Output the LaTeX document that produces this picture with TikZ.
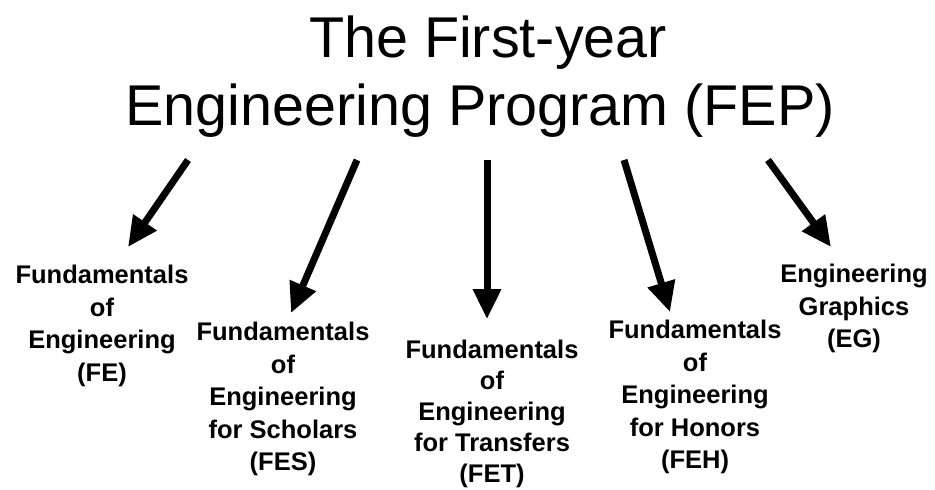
\documentclass[tikz,border=0pt]{standalone}
\usepackage{fontspec}
\setmainfont{Liberation Sans}
\usetikzlibrary{arrows.meta}
\tikzset{
  titletext/.style={inner sep=0pt, anchor=base, font=\fontsize{57.5}{68}\selectfont},
  labeltext/.style={inner sep=0pt, anchor=north, align=center, font=\bfseries\fontsize{25.5}{32.5}\selectfont},
  tightlabel/.style={labeltext, font=\bfseries\fontsize{25.5}{31}\selectfont},
  bigarrow/.style={line width=7pt, -{Triangle[length=30pt,width=27pt]}}
}
\begin{document}
\begin{tikzpicture}[x=1pt,y=-1pt]
\useasboundingbox (0,0) rectangle (935,490);
\node[titletext] (t1) at (488,57) {The First-year};
\node[titletext] (t2) at (480,125) {Engineering Program (FEP)};

\node[labeltext] (fe)  at (102,265) {Fundamentals\\of\\Engineering\\(FE)};
\node[labeltext] (fes) at (283,322) {Fundamentals\\of\\Engineering\\for Scholars\\(FES)};
\node[tightlabel] (fet) at (492,340) {Fundamentals\\of\\Engineering\\for Transfers\\(FET)};
\node[labeltext] (feh) at (695,320) {Fundamentals\\of\\Engineering\\for Honors\\(FEH)};
\node[labeltext] (eg)  at (854,264) {Engineering\\Graphics\\(EG)};

\coordinate (a1s) at (188,160); \coordinate (a1e) at (128,247);
\coordinate (a2s) at (357,160); \coordinate (a2e) at (291,313);
\coordinate (a3s) at (487,160); \coordinate (a3e) at (487,319);
\coordinate (a4s) at (624,160); \coordinate (a4e) at (670,312);
\coordinate (a5s) at (768,160); \coordinate (a5e) at (831,247);

\draw[bigarrow] (a1s) -- (a1e);
\draw[bigarrow] (a2s) -- (a2e);
\draw[bigarrow] (a3s) -- (a3e);
\draw[bigarrow] (a4s) -- (a4e);
\draw[bigarrow] (a5s) -- (a5e);
\end{tikzpicture}
\end{document}
